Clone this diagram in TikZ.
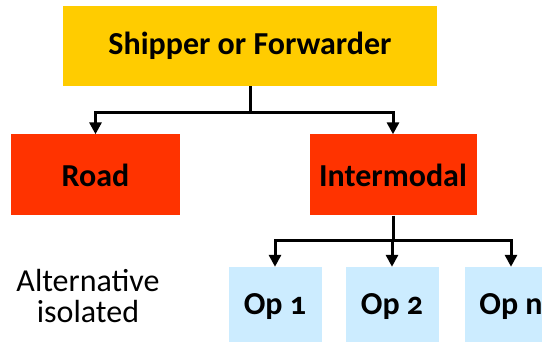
\documentclass[tikz,border=0pt]{standalone}
\usepackage{fontspec}
\setmainfont{Carlito}[Numbers=OldStyle]
\usetikzlibrary{arrows.meta}
\tikzset{every node/.style={font=\fontsize{32}{31}\selectfont}}
\definecolor{shipcol}{HTML}{FFCC00}
\definecolor{modecol}{HTML}{FF3300}
\definecolor{opcol}{HTML}{CCECFF}

\begin{document}
\begin{tikzpicture}[x=1pt, y=-1pt, >={Triangle[width=12pt,length=12pt]},
  box/.style={inner sep=0pt, font=\fontsize{32}{31}\selectfont\bfseries},
  link/.style={line width=3pt, black}]

  \useasboundingbox (0,0) rectangle (542,342);

  % Shipper on top.
  \node[box, fill=shipcol, minimum width=374pt, minimum height=80pt] (ship)
    at (250,46) {Shipper or Forwarder};

  % Transport modes.
  \node[box, fill=modecol, minimum width=169pt, minimum height=81pt] (road)
    at (95.5,175) {Road};
  \node[box, fill=modecol, minimum width=167pt, minimum height=81pt] (inter)
    at (393,175) {Intermodal};

  % Operators.
  \node[box, fill=opcol, minimum width=93pt, minimum height=80pt] (op1)
    at (275,307) {Op 1};
  \node[box, fill=opcol, minimum width=93pt, minimum height=80pt] (op2)
    at (392,307) {Op 2};
  \node[box, fill=opcol, minimum width=93pt, minimum height=80pt] (opn)
    at (511,307) {Op n};

  % Side note.
  \node[align=center] (alt) at (88,296) {Alternative\\isolated};

  % Fork below the shipper.
  \coordinate (forkA) at (ship.south |- 0,113);
  \draw[link] (ship.south) -- (forkA);
  \draw[link, ->] (forkA) -| (road.north);
  \draw[link, ->] (forkA) -| (inter.north);

  % Fork below intermodal.
  \coordinate (forkB) at (inter.south |- 0,241);
  \draw[link] (inter.south) -- (forkB);
  \foreach \op in {op1,op2,opn} {
    \draw[link, ->] (forkB) -| (\op.north);
  }

\end{tikzpicture}
\end{document}
